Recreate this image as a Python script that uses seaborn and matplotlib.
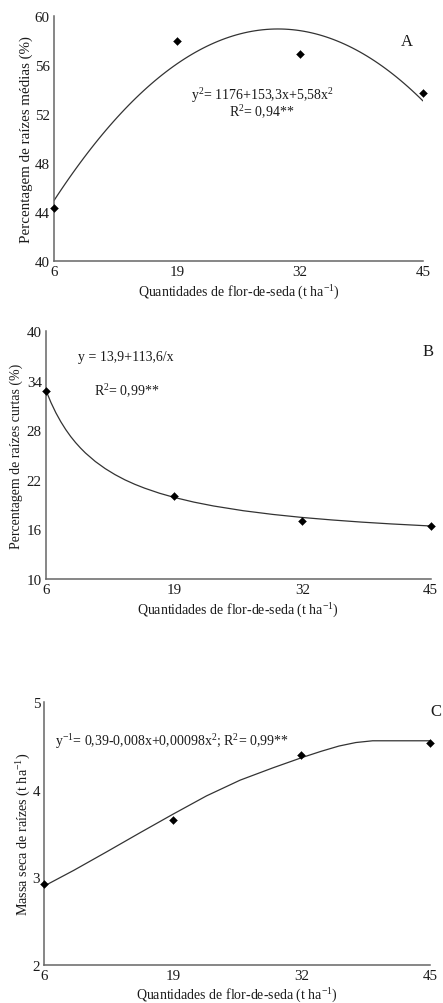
import matplotlib
matplotlib.use("Agg")
import matplotlib.pyplot as plt
import seaborn as sns
import pandas as pd

# ---------------- data ----------------
doses = [6, 19, 32, 45]
x_ticks = [6, 19, 32, 45]

# Panel A: percentage of medium roots (%)
a_values = [44.3, 58.0, 56.9, 53.7]
a_yticks = [40, 44, 48, 52, 56, 60]

# Panel B: percentage of short roots (%)
b_values = [32.8, 20.1, 17.06, 16.42]
b_yticks = [10, 16, 22, 28, 34, 40]
# fitted curve
b_curve_x = [6, 6.5, 7, 7.5, 8, 8.5, 9, 9.5, 10, 11, 12, 13, 14, 15, 16, 17.5, 19,
             21, 23, 26, 29, 32, 35, 38, 41, 45]
b_curve_y = [32.83, 31.38, 30.13, 29.05, 28.10, 27.26, 26.52, 25.86, 25.26, 24.23,
             23.37, 22.64, 22.01, 21.47, 21.00, 20.39, 19.88, 19.31, 18.84, 18.27,
             17.82, 17.45, 17.15, 16.89, 16.67, 16.42]

# Panel C: root dry mass (t ha-1)
c_values = [2.92, 3.65, 4.40, 4.53]
c_yticks = [2, 3, 4, 5]
c_curve_x = [6, 9, 12.3, 15.7, 19, 22.4, 25.8, 29.1, 32.1, 34, 35.8, 37.5, 39.2, 45]
c_curve_y = [2.90, 3.08, 3.29, 3.51, 3.72, 3.93, 4.11, 4.25, 4.37, 4.44, 4.50, 4.54,
             4.56, 4.56]

xlabel = r"Quantidades de flor-de-seda (t ha$^{-1}$)"

# ---------------- style ----------------
sns.set_theme(style="white")
plt.rcParams["font.family"] = ["Liberation Serif", "DejaVu Serif"]
plt.rcParams["mathtext.fontset"] = "custom"
plt.rcParams["mathtext.rm"] = "Liberation Serif"
plt.rcParams["mathtext.it"] = "Liberation Serif:italic"

W, H = 443, 1004
fig = plt.figure(figsize=(W / 100, H / 100), dpi=100)

def px_axes(left, right, top, bottom):
    return fig.add_axes([left / W, 1 - bottom / H, (right - left) / W, (bottom - top) / H])

axA = px_axes(54, 423, 17, 262)
axB = px_axes(46, 430.7, 332.3, 580)
axC = px_axes(44.3, 430, 703.3, 965.7)

txt = "#1a1a1a"
spine_c = "#666666"
line_c = "#333333"
FS = 10.0

def style(ax, yticks, ylabel, ylabelsize, ylabelpad):
    ax.set_xlim(6, 45)
    ax.set_ylim(yticks[0], yticks[-1])
    ax.set_xticks(x_ticks)
    ax.set_yticks(yticks)
    sns.despine(ax=ax)
    for s in ["left", "bottom"]:
        ax.spines[s].set_color(spine_c)
        ax.spines[s].set_linewidth(1.1)
    ax.tick_params(axis="both", direction="out", length=2, width=0.8, color=spine_c,
                   labelsize=10.8, labelcolor=txt, pad=1)
    ax.set_xlabel(xlabel, fontsize=FS, color=txt, labelpad=3)
    ax.set_ylabel(ylabel, fontsize=ylabelsize, color=txt, labelpad=ylabelpad)

dfA = pd.DataFrame({"x": doses, "y": a_values})
dfB = pd.DataFrame({"x": doses, "y": b_values})
dfC = pd.DataFrame({"x": doses, "y": c_values})

# Panel A
sns.regplot(data=dfA, x="x", y="y", order=2, ci=None, scatter=False, ax=axA,
            line_kws=dict(color=line_c, lw=0.9))
sns.scatterplot(data=dfA, x="x", y="y", marker="D", s=16, color="black",
                edgecolor="black", ax=axA, clip_on=False, zorder=5)
style(axA, a_yticks, "Percentagem de raízes médias (%)", 10.8, 1)
axA.text(43.3, 58.0, "A", fontsize=12, color=txt, ha="center", va="center")
axA.text(28.0, 53.6, r"y$^{2}$= 1176+153,3x+5,58x$^{2}$", fontsize=FS, color=txt,
         ha="center", va="center")
axA.text(28.0, 52.2, r"R$^{2}$= 0,94**", fontsize=FS, color=txt, ha="center", va="center")

# Panel B
sns.lineplot(x=b_curve_x, y=b_curve_y, color=line_c, lw=0.9, ax=axB)
sns.scatterplot(data=dfB, x="x", y="y", marker="D", s=16, color="black",
                edgecolor="black", ax=axB, clip_on=False, zorder=5)
style(axB, b_yticks, "Percentagem de raízes curtas (%)", 10.0, 3)
axB.text(44.7, 37.6, "B", fontsize=12, color=txt, ha="center", va="center")
axB.text(9.2, 37.0, "y = 13,9+113,6/x", fontsize=FS, color=txt, ha="left", va="center")
axB.text(10.9, 32.9, r"R$^{2}$= 0,99**", fontsize=FS, color=txt, ha="left", va="center")

# Panel C
sns.lineplot(x=c_curve_x, y=c_curve_y, color=line_c, lw=0.9, ax=axC)
sns.scatterplot(data=dfC, x="x", y="y", marker="D", s=16, color="black",
                edgecolor="black", ax=axC, clip_on=False, zorder=5)
style(axC, c_yticks, r"Massa seca de raízes (t ha$^{-1}$)", 10.2, 0)
axC.text(45.6, 4.90, "C", fontsize=12, color=txt, ha="center", va="center", clip_on=False)
axC.text(7.1, 4.56, r"y$^{-1}$= 0,39-0,008x+0,00098x$^{2}$; R$^{2}$= 0,99**", fontsize=FS,
         color=txt, ha="left", va="center")

fig.savefig("out.png", dpi=100, facecolor="white")
